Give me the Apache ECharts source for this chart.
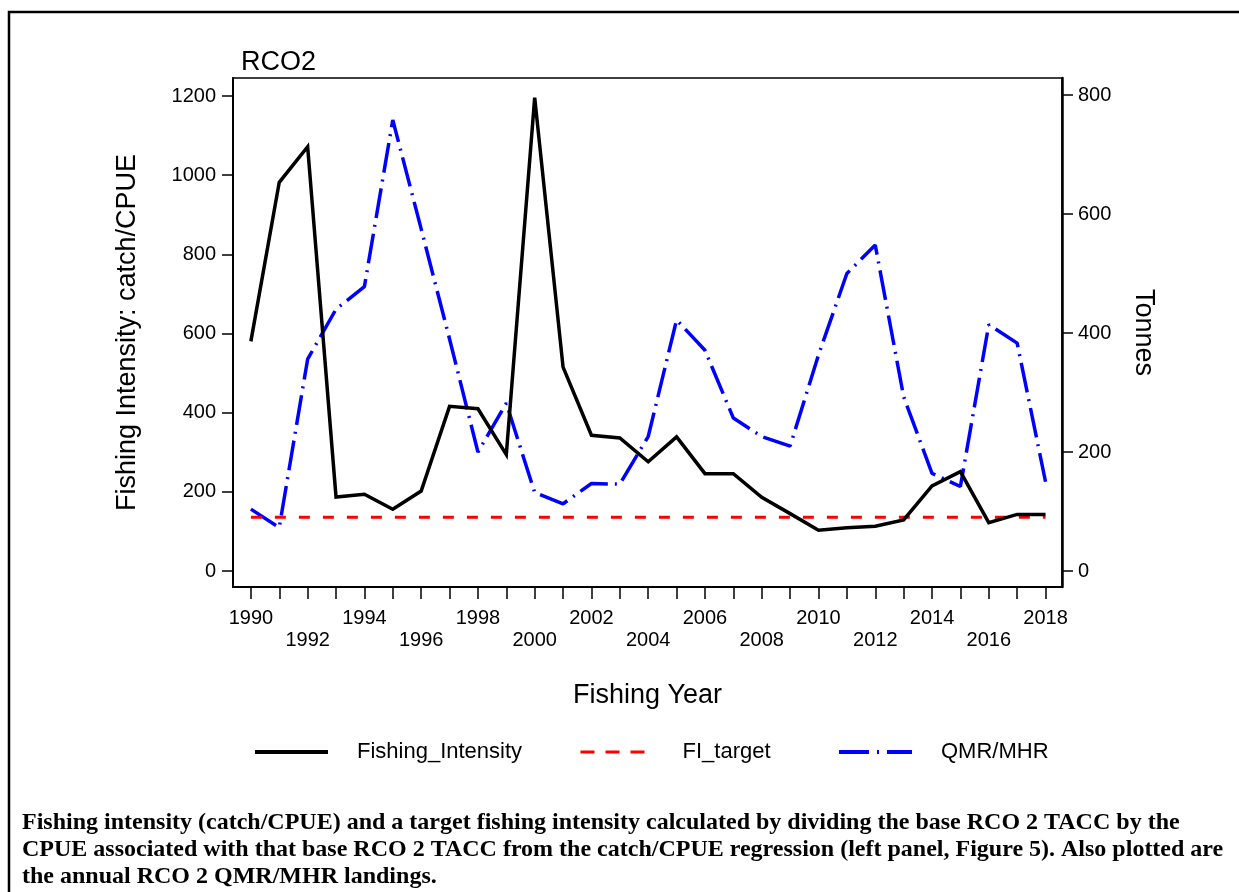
<!DOCTYPE html>
<html>
<head>
<meta charset="utf-8">
<script src="https://cdn.jsdelivr.net/npm/echarts@6/dist/echarts.min.js"></script>
<style>
html,body{margin:0;padding:0;background:#fff;}
#chart{width:1239px;height:892px;}
</style>
</head>
<body>
<div id="chart"></div>
<script>
const years = [1990,1991,1992,1993,1994,1995,1996,1997,1998,1999,2000,2001,2002,2003,2004,2005,2006,2007,2008,2009,2010,2011,2012,2013,2014,2015,2016,2017,2018];
const fishingIntensity = [580,982,1072,187,194,156,202,416,410,294,1196,515,343,336,276,339,246,246,186,145,103,109,113,129,215,251,122,143,143];
const fiTarget = [136,136,136,136,136,136,136,136,136,136,136,136,136,136,136,136,136,136,136,136,136,136,136,136,136,136,136,136,136];
const qmrMhr = [104,73,356,440,478,758,575,390,200,282,132,113,147,146,226,422,371,257,226,210,363,500,548,293,164,142,414,383,150];
const leftTicks = [0,200,400,600,800,1000,1200];
const rightTicks = [0,200,400,600,800];
const xLabelYears = [1990,1992,1994,1996,1998,2000,2002,2004,2006,2008,2010,2012,2014,2016,2018];
const captionLines = [
  'Fishing intensity (catch/CPUE) and a target fishing intensity calculated by dividing the base RCO 2 TACC by the',
  'CPUE associated with that base RCO 2 TACC from the catch/CPUE regression (left panel, Figure 5). Also plotted are',
  'the annual RCO 2 QMR/MHR landings.'
];

const FONT = '"Liberation Sans", Arial, sans-serif';
const pair = arr => years.map((y, i) => [y, arr[i]]);
const plain = v => String(Math.round(v));

const chart = echarts.init(document.getElementById('chart'), null, {renderer: 'canvas'});

const legendCommon = {
  top: 736, itemWidth: 73, itemHeight: 20,
  itemStyle: {color: 'transparent', borderWidth: 0, opacity: 0},
  textStyle: {fontFamily: FONT, fontSize: 22, color: '#000', padding: [0,0,0,24]}
};

chart.setOption({
  backgroundColor: '#fff',
  animation: false,
  title: {
    text: 'RCO2', left: 236, top: 44,
    textStyle: {fontFamily: FONT, fontSize: 27, fontWeight: 'normal', color: '#000'}
  },
  grid: {
    left: 233, top: 78, right: 177, bottom: 305,
    show: true, borderColor: '#000', borderWidth: 1.5, backgroundColor: 'transparent',
    containLabel: false
  },
  legend: [
    Object.assign({}, legendCommon, {left: 248, data: ['Fishing_Intensity'],
      lineStyle: {width: 4, type: 'solid', opacity: 1}}),
    Object.assign({}, legendCommon, {left: 574, data: ['FI_target'],
      lineStyle: {width: 3, type: [14, 11], opacity: 1}}),
    Object.assign({}, legendCommon, {left: 832, data: ['QMR/MHR'],
      lineStyle: {width: 4, type: [30, 8, 2, 8], opacity: 1}})
  ],
  xAxis: {
    type: 'value', min: 1989.37, max: 2018.58,
    name: 'Fishing Year', nameLocation: 'middle', nameGap: 95,
    nameTextStyle: {fontFamily: FONT, fontSize: 27, color: '#000'},
    axisLine: {show: true, onZero: false, lineStyle: {color: '#000', width: 2}},
    axisTick: {show: true, inside: false, length: 12, lineStyle: {color: '#000', width: 1.5}, customValues: years},
    axisLabel: {
      customValues: xLabelYears, margin: 20, fontFamily: FONT, fontSize: 20, color: '#000',
      lineHeight: 22, verticalAlign: 'top',
      formatter: v => ((Math.round(v) - 1990) % 4 === 2 ? '\n' : '') + plain(v)
    },
    splitLine: {show: false}
  },
  yAxis: [
    {
      type: 'value', min: -40.4, max: 1245.5, position: 'left',
      name: 'Fishing Intensity: catch/CPUE', nameLocation: 'middle', nameGap: 92, nameRotate: 90,
      nameTextStyle: {fontFamily: FONT, fontSize: 27, color: '#000'},
      axisLine: {show: true, onZero: false, lineStyle: {color: '#000', width: 2}},
      axisTick: {show: true, inside: false, length: 11, lineStyle: {color: '#000', width: 1.5}, customValues: leftTicks},
      axisLabel: {customValues: leftTicks, margin: 17, fontFamily: FONT, fontSize: 20, color: '#000', formatter: plain},
      splitLine: {show: false}
    },
    {
      type: 'value', min: -26.9, max: 828.6, position: 'right',
      name: 'Tonnes', nameLocation: 'middle', nameGap: 68, nameRotate: -90,
      nameTextStyle: {fontFamily: FONT, fontSize: 27, color: '#000'},
      axisLine: {show: true, onZero: false, lineStyle: {color: '#000', width: 2.5}},
      axisTick: {show: true, inside: false, length: 11, lineStyle: {color: '#000', width: 1.5}, customValues: rightTicks},
      axisLabel: {customValues: rightTicks, margin: 16, fontFamily: FONT, fontSize: 20, color: '#000', formatter: plain},
      splitLine: {show: false}
    }
  ],
  series: [
    {
      name: 'Fishing_Intensity', type: 'line', yAxisIndex: 0, data: pair(fishingIntensity),
      symbol: 'none', z: 4,
      lineStyle: {color: '#000', width: 3.5, type: 'solid', join: 'miter'},
      itemStyle: {color: '#000'}
    },
    {
      name: 'FI_target', type: 'line', yAxisIndex: 0, data: pair(fiTarget),
      symbol: 'none', z: 3,
      lineStyle: {color: '#ff0000', width: 3, type: [11, 13]},
      itemStyle: {color: '#ff0000'}
    },
    {
      name: 'QMR/MHR', type: 'line', yAxisIndex: 1, data: pair(qmrMhr),
      symbol: 'none', z: 2,
      lineStyle: {color: '#0000ff', width: 3.5, type: [30, 7, 2, 7]},
      itemStyle: {color: '#0000ff'}
    }
  ],
  graphic: [
    {type: 'rect', shape: {x: 9, y: 12, width: 1260, height: 920}, silent: true,
      style: {fill: 'none', stroke: '#000', lineWidth: 2.5}, z: 100},
    ...captionLines.map((t, i) => ({
      type: 'text', left: 22, top: 811 + i * 27, silent: true,
      style: {text: t, font: 'bold 24px "Liberation Serif", "Times New Roman", serif', fill: '#000'}
    }))
  ]
});
</script>
</body>
</html>
